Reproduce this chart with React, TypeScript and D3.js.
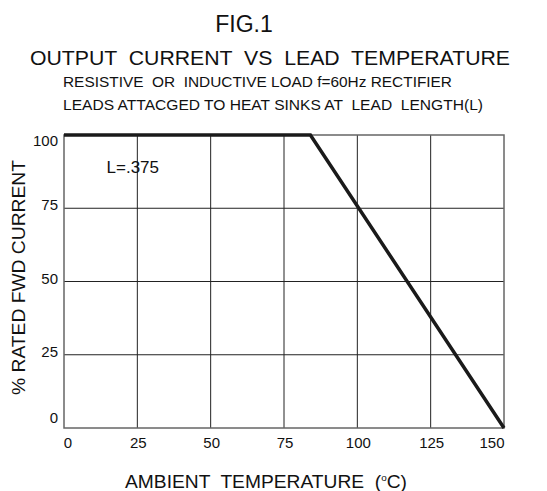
import React, { useEffect, useRef } from "react";
import * as d3 from "d3";

// derating curve
const tempC = [0, 84, 150];
const ratedPct = [100, 100, 0];
const xTicks = [0, 25, 50, 75, 100, 125, 150];
const yTicks = [0, 25, 50, 75, 100];

const W = 547, H = 491;
const margin = { top: 135, right: 43, bottom: 63, left: 64 };

export default function App() {
  const ref = useRef<SVGSVGElement>(null);

  useEffect(() => {
    const svg = d3.select(ref.current);
    svg.selectAll("*").remove();
    const font = "Liberation Sans, Arial, sans-serif";

    const x = d3.scaleLinear().domain([0, 150]).range([margin.left, W - margin.right]);
    const y = d3.scaleLinear().domain([0, 100]).range([H - margin.bottom, margin.top]);

    // titles
    svg.append("text").attr("x", 244).attr("y", 32).attr("text-anchor", "middle")
      .attr("font-family", font).attr("font-size", 23).attr("fill", "#111").text("FIG.1");
    svg.append("text").attr("x", 30).attr("y", 65).attr("textLength", 480).attr("lengthAdjust", "spacingAndGlyphs")
      .attr("font-family", font).attr("font-size", 20).attr("fill", "#111")
      .style("white-space", "pre")
      .text("OUTPUT  CURRENT  VS  LEAD  TEMPERATURE");
    svg.append("text").attr("x", 63).attr("y", 87).attr("textLength", 389).attr("lengthAdjust", "spacingAndGlyphs")
      .attr("font-family", font).attr("font-size", 15).attr("fill", "#111").style("white-space", "pre")
      .text("RESISTIVE  OR  INDUCTIVE LOAD f=60Hz RECTIFIER");
    svg.append("text").attr("x", 63).attr("y", 110).attr("textLength", 420).attr("lengthAdjust", "spacingAndGlyphs")
      .attr("font-family", font).attr("font-size", 15).attr("fill", "#111").style("white-space", "pre")
      .text("LEADS ATTACGED TO HEAT SINKS AT  LEAD  LENGTH(L)");

    // grid
    const g = svg.append("g");
    g.selectAll("line.v").data(xTicks.slice(1, -1)).enter().append("line")
      .attr("x1", d => x(d)).attr("x2", d => x(d)).attr("y1", y(100)).attr("y2", y(0))
      .attr("stroke", "#222").attr("stroke-width", 1);
    g.selectAll("line.h").data(yTicks.slice(1, -1)).enter().append("line")
      .attr("x1", x(0)).attr("x2", x(150)).attr("y1", d => y(d)).attr("y2", d => y(d))
      .attr("stroke", "#222").attr("stroke-width", 1);

    // frame
    g.append("rect").attr("x", x(0)).attr("y", y(100)).attr("width", x(150) - x(0)).attr("height", y(0) - y(100))
      .attr("fill", "none").attr("stroke", "#666").attr("stroke-width", 1.5);

    // tick labels
    g.selectAll("text.yl").data(yTicks).enter().append("text")
      .attr("x", x(0) - 6).attr("y", d => y(d)).attr("dy", d => (d === 0 ? -5 : d === 100 ? 11 : 2))
      .attr("text-anchor", "end").attr("font-family", font).attr("font-size", 15).attr("fill", "#111")
      .text(d => d);
    g.selectAll("text.xl").data(xTicks).enter().append("text")
      .attr("x", d => x(d) + (d === 0 ? 4 : d === 150 ? -12 : 1)).attr("y", 448)
      .attr("text-anchor", "middle").attr("font-family", font).attr("font-size", 15).attr("fill", "#111")
      .text(d => d);

    // axis titles
    const xt = svg.append("text").attr("x", 125).attr("y", 488)
      .attr("textLength", 282).attr("lengthAdjust", "spacingAndGlyphs")
      .attr("font-family", font).attr("font-size", 17.5).attr("fill", "#111").style("white-space", "pre");
    xt.append("tspan").text("AMBIENT  TEMPERATURE  (");
    xt.append("tspan").attr("font-size", 9).attr("dy", -7).text("o");
    xt.append("tspan").attr("dy", 7).text("C)");

    svg.append("text").attr("transform", `translate(25,395) rotate(-90)`)
      .attr("textLength", 235).attr("lengthAdjust", "spacingAndGlyphs")
      .attr("font-family", font).attr("font-size", 18).attr("fill", "#111")
      .text("% RATED FWD CURRENT");

    // curve
    const pts = tempC.map((t, i) => [t, ratedPct[i]] as [number, number]);
    g.append("path").datum(pts)
      .attr("d", d3.line<[number, number]>().x(d => x(d[0])).y(d => y(d[1])))
      .attr("fill", "none").attr("stroke", "#1a1a1a").attr("stroke-width", 3.5);

    g.append("text").attr("x", x(14.5)).attr("y", y(87)).attr("font-family", font).attr("font-size", 17)
      .attr("fill", "#111").text("L=.375");
  }, []);

  return <svg ref={ref} width={W} height={H} style={{ position: "absolute", left: 0, top: 0 }} />;
}
